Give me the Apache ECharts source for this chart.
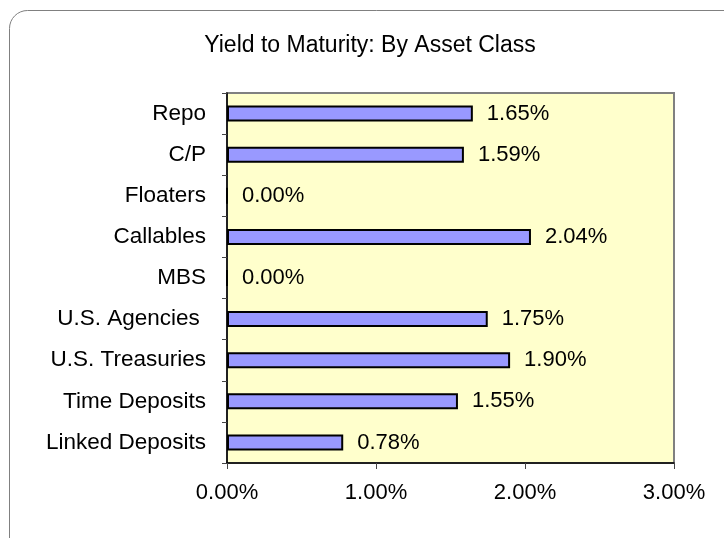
<!DOCTYPE html>
<html>
<head>
<meta charset="utf-8">
<script src="https://cdn.jsdelivr.net/npm/echarts@6/dist/echarts.min.js"></script>
<style>
    html, body { margin: 0; padding: 0; background: #fff; }
    #chart { width: 724px; height: 538px; }
</style>
</head>
<body>
<div id="chart"></div>
<script>
(function (window) {
    "use strict";
    // categories listed top to bottom
    var categories = ['Repo', 'C/P', 'Floaters', 'Callables', 'MBS', 'U.S. Agencies ',
        'U.S. Treasuries', 'Time Deposits', 'Linked Deposits'];
    var yields = [1.65, 1.59, 0.00, 2.04, 0.00, 1.75, 1.90, 1.55, 0.78];
    var xTicks = { min: 0, max: 3, step: 1 };

    var font = 'Liberation Sans, Arial, sans-serif';
    var pct = function (v) { return Number(v).toFixed(2) + '%'; };

    var chart = echarts.init(document.getElementById('chart'));
    var option = {
        animation: false,
        backgroundColor: '#ffffff',
        textStyle: { fontFamily: font, color: '#000' },
        graphic: [{
            type: 'rect',
            left: 7, top: 8,
            shape: { width: 780, height: 580, r: 18 },
            style: { fill: 'none', stroke: '#808080', lineWidth: 1 },
            z: -1
        }],
        title: {
            text: 'Yield to Maturity: By Asset Class',
            left: 365, top: 29,
            textAlign: 'center',
            textStyle: { fontFamily: font, fontSize: 23, fontWeight: 'normal', color: '#000' }
        },
        grid: {
            left: 227, right: 50, top: 93, bottom: 75,
            show: true,
            backgroundColor: '#ffffcc',
            borderColor: '#808080',
            borderWidth: 2
        },
        xAxis: {
            type: 'value',
            min: xTicks.min, max: xTicks.max, interval: xTicks.step,
            axisLine: { show: true, lineStyle: { color: '#000', width: 1.5 } },
            axisTick: { show: true, length: 6, lineStyle: { color: '#444' } },
            splitLine: { show: false },
            axisLabel: { margin: 19, fontSize: 22, color: '#000', fontFamily: font, formatter: pct }
        },
        yAxis: {
            type: 'category',
            inverse: true,
            data: categories,
            axisLine: { show: true, lineStyle: { color: '#000', width: 1.5 } },
            axisTick: { show: true, length: 5, lineStyle: { color: '#444' } },
            axisLabel: { margin: 21, fontSize: 22.5, color: '#000', fontFamily: font }
        },
        series: [{
            type: 'bar',
            data: yields,
            barWidth: 16,
            itemStyle: { color: '#9999ff', borderColor: '#000', borderWidth: 2 },
            label: {
                show: true,
                position: 'right',
                distance: 14,
                fontSize: 22,
                color: '#000',
                fontFamily: font,
                formatter: function (p) { return pct(p.value); }
            }
        }]
    };
    chart.setOption(option);
})(window);
</script>
</body>
</html>
